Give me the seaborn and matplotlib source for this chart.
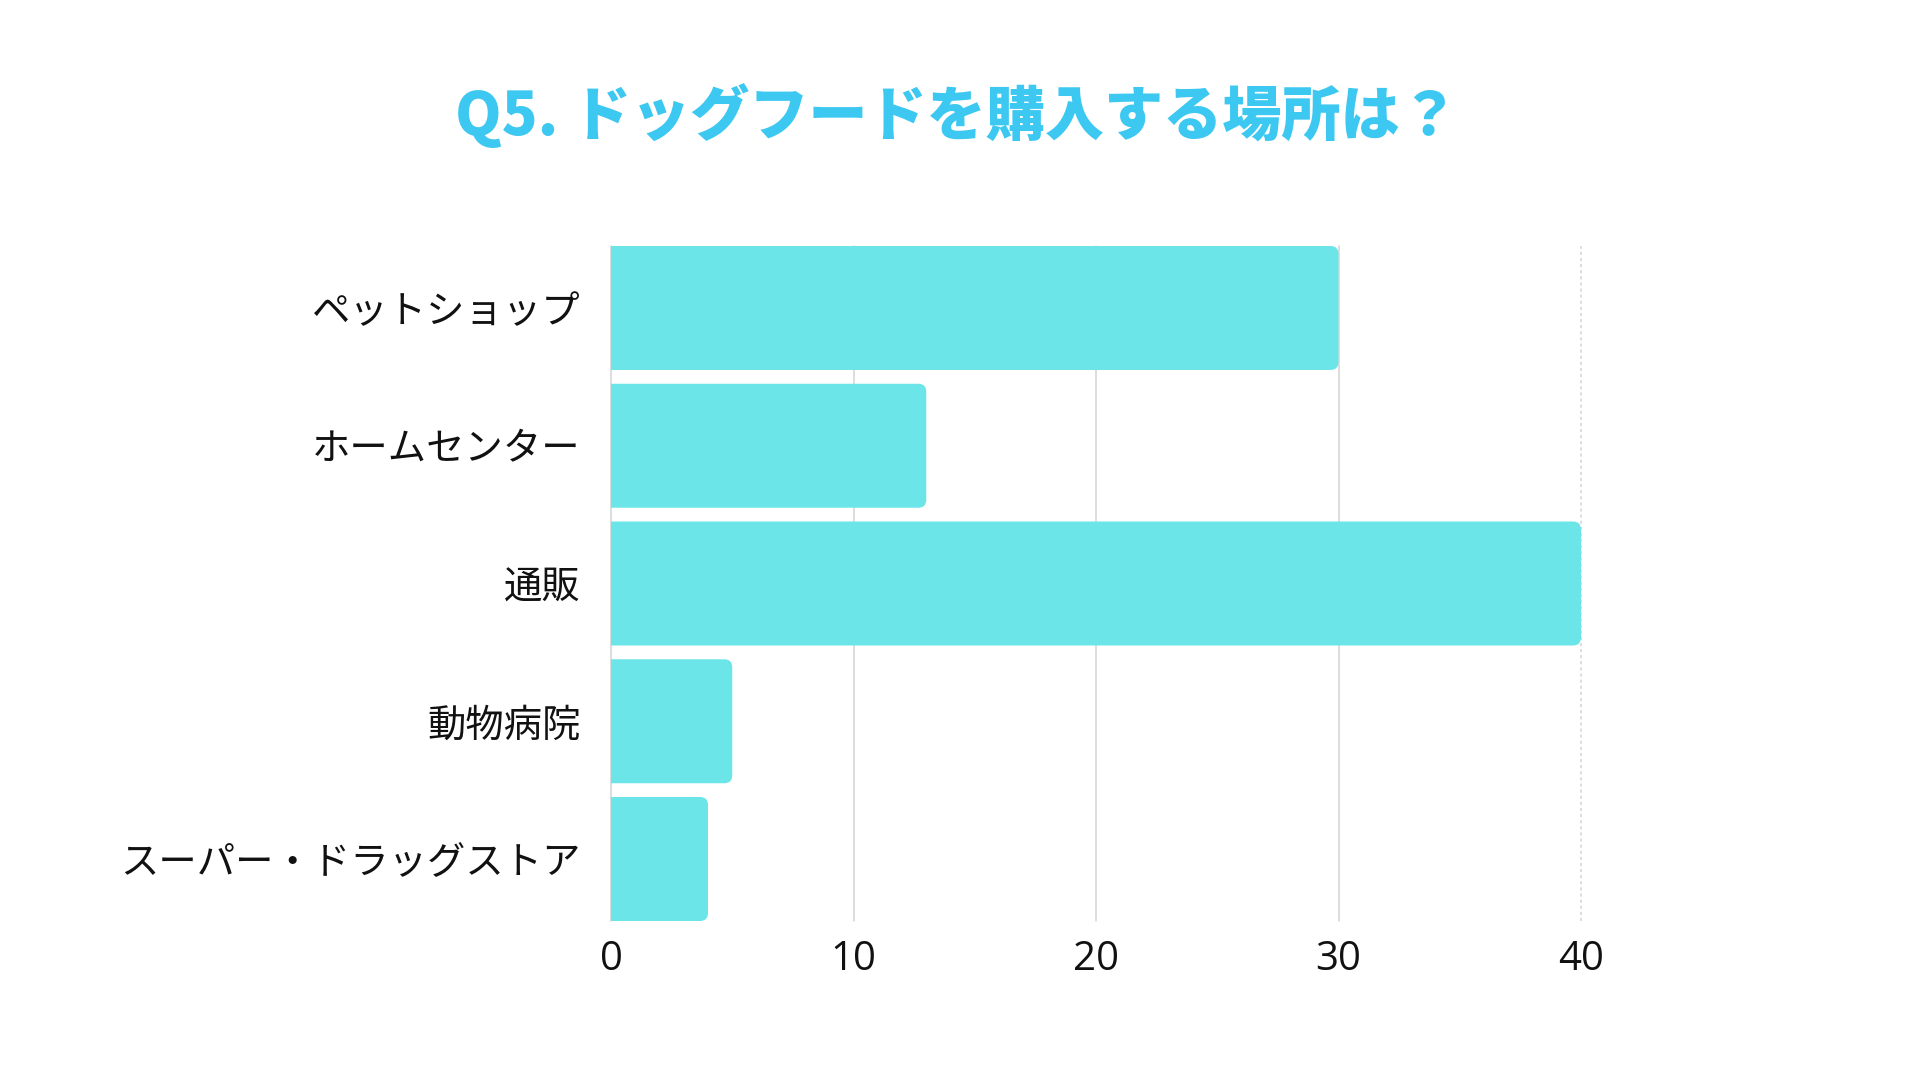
import matplotlib
matplotlib.use("Agg")
import matplotlib.pyplot as plt
import seaborn as sns
import pandas as pd
from matplotlib.patches import FancyBboxPatch

categories = ["ペットショップ", "ホームセンター", "通販", "動物病院", "スーパー・ドラッグストア"]
values = [30, 13, 40, 5, 4]
x_ticks = [0, 10, 20, 30, 40]
title = "Q5. ドッグフードを購入する場所は？"

BAR = "#6BE5E8"
TITLE_C = "#3CC8F0"
GRID = "#D3D3D3"

sns.set_theme(style="white")
plt.rcParams['font.family'] = ['Noto Sans CJK JP', 'DejaVu Sans']

df = pd.DataFrame({"place": categories, "count": values})

fig = plt.figure(figsize=(19.2, 10.8), dpi=100)
ax = fig.add_axes([611/1920, 1-921/1080, (1581-611)/1920, (921-246)/1080])

sns.barplot(data=df, x="count", y="place", orient="h", color=BAR,
            width=0.9, saturation=1, ax=ax, zorder=3)

ax.set_xlim(0, 40)
ax.set_ylim(len(categories) - 0.55, -0.45)

# rounded right corners
r = 0.33
asp = 0.176
for p in list(ax.patches):
    x, y = p.get_x(), p.get_y()
    w, h = p.get_width(), p.get_height()
    p.remove()
    fb = FancyBboxPatch((x - r * 2, y), w + r * 2, h,
                        boxstyle=f"round,pad=0,rounding_size={r}",
                        mutation_aspect=asp, facecolor=BAR, edgecolor="none",
                        zorder=3, clip_on=True)
    ax.add_patch(fb)

for t in x_ticks:
    ls = (0, (2, 2)) if t == x_ticks[-1] else "-"
    ax.axvline(t, color=GRID, lw=1.1, ls=ls, zorder=1, clip_on=False)

for s in ax.spines.values():
    s.set_visible(False)
ax.set_xticks(x_ticks)
ax.set_xticklabels([str(t) for t in x_ticks])
for lab in ax.get_xticklabels():
    lab.set_family(['Open Sans', 'DejaVu Sans'])
ax.tick_params(axis="x", length=0, pad=13.5, labelsize=29, labelcolor="#111111")
ax.tick_params(axis="y", length=0, pad=22, labelsize=27.6, labelcolor="#111111")
ax.set_xlabel("")
ax.set_ylabel("")
ax.grid(False)

fig.text(957/1920, 1-116/1080, title, ha="center", va="center",
         fontsize=42.6, fontweight=900, color=TITLE_C)

fig.savefig("out.png", dpi=100, facecolor="white")
